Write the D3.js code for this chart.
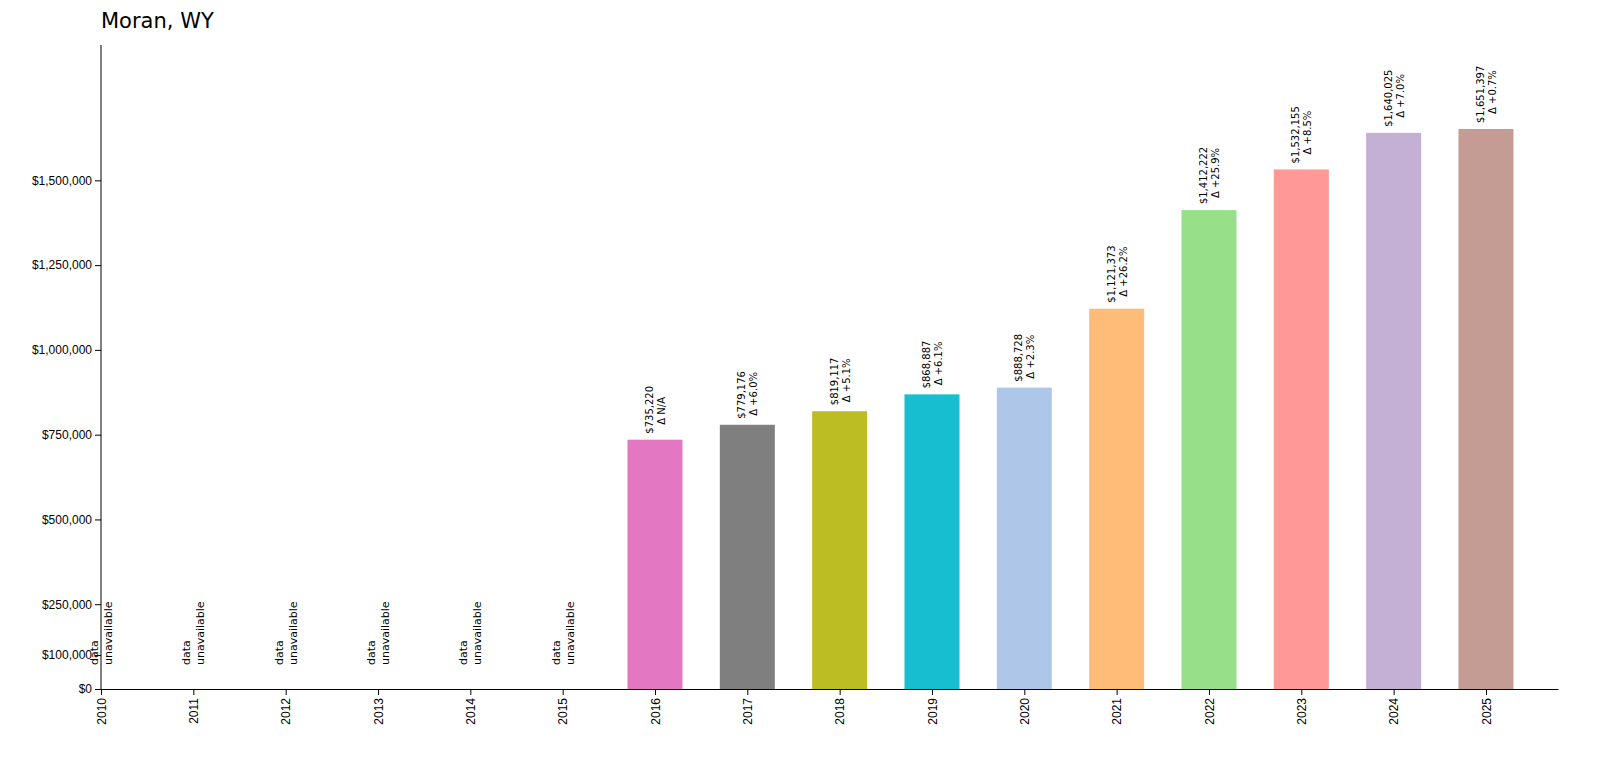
<!DOCTYPE html>
<html><head><meta charset="utf-8">
<script src="https://cdn.jsdelivr.net/npm/d3@7"></script>
<style>body{margin:0;background:#fff;font-family:"DejaVu Sans",sans-serif}</style>
</head><body>
<svg id="c" width="1600" height="757"></svg>
<script>
const years = [2010,2011,2012,2013,2014,2015,2016,2017,2018,2019,2020,2021,2022,2023,2024,2025];
const values = [null,null,null,null,null,null,735220,779176,819117,868887,888728,1121373,1412222,1532155,1640025,1651397];
const deltas = [null,null,null,null,null,null,"N/A","+6.0%","+5.1%","+6.1%","+2.3%","+26.2%","+25.9%","+8.5%","+7.0%","+0.7%"];
const colors = [null,null,null,null,null,null,"#e377c2","#7f7f7f","#bcbd22","#17becf","#aec7e8","#ffbb78","#98df8a","#ff9896","#c5b0d5","#c49c94"];
const yTicks = [0,100000,250000,500000,750000,1000000,1250000,1500000];

(function () {
    const svg = d3.select('#c');
    const mLeft = 101, mRight = 1558, mTop = 45, mBottom = 689;
    const x = d3.scaleLinear().domain([0, 15.78]).range([mLeft, mRight]);
    const y = d3.scaleLinear().domain([0, 1651397 * 1.15]).range([mBottom, mTop]);
    const fmt = d3.format('$,');
    const bw = 55;

    svg.append('text').attr('x', mLeft).attr('y', 28).attr('font-size', 21).text('Moran, WY');

    years.forEach((yr, i) => {
        const v = values[i];
        if (v == null) {
            const g = svg.append('g').attr('transform', `translate(${x(i)},665) rotate(-90)`);
            g.append('text').attr('font-size', 11).attr('dy', -3).text('data');
            g.append('text').attr('font-size', 11).attr('dy', 11).text('unavailable');
            return;
        }
        svg.append('rect').attr('x', x(i) - bw / 2).attr('width', bw)
            .attr('y', y(v)).attr('height', mBottom - y(v)).attr('fill', colors[i]);
        const g = svg.append('g').attr('transform', `translate(${x(i)},${y(v) - 6}) rotate(-90)`);
        g.append('text').attr('font-size', 10).attr('dy', -2).text(fmt(v));
        g.append('text').attr('font-size', 10).attr('dy', 10)
            .attr('x', (fmt(v).length - ('Δ ' + deltas[i]).length) * 3)
            .text('Δ ' + deltas[i]);
    });

    const yAxis = svg.append('g').attr('transform', `translate(${mLeft},0)`)
        .call(d3.axisLeft(y).tickValues(yTicks).tickFormat(fmt).tickSizeOuter(0));
    yAxis.selectAll('text').attr('font-size', 12).attr('fill', '#000');
    yAxis.select('.domain').attr('d', `M0,${mTop}V${mBottom}`);

    const xAxis = svg.append('g').attr('transform', `translate(0,${mBottom})`)
        .call(d3.axisBottom(x).tickValues(d3.range(16)).tickFormat(i => years[i]).tickSizeOuter(0));
    xAxis.selectAll('text').attr('font-size', 12).attr('fill', '#000')
        .attr('transform', 'rotate(-90)').attr('text-anchor', 'end')
        .attr('x', -9).attr('y', 0).attr('dy', '0.35em');
})();
</script>
</body></html>
